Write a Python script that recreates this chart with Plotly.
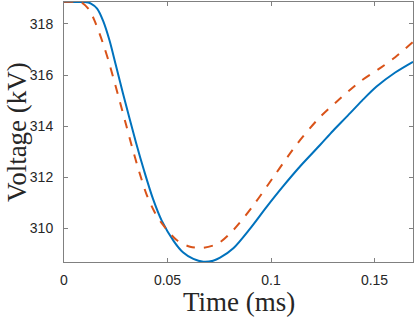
import plotly.graph_objects as go

# Data
blue_x = [0, 0.008, 0.010, 0.013, 0.016, 0.019, 0.022, 0.025, 0.0285, 0.0348, 0.0386,
          0.0430, 0.0472, 0.0530, 0.0576, 0.0625, 0.0673, 0.0720, 0.0754, 0.0818,
          0.0900, 0.0979, 0.1060, 0.1140, 0.1237, 0.1300, 0.1366, 0.1440, 0.1510,
          0.1600, 0.1686]
blue_y = [318.86, 318.86, 318.86, 318.80, 318.60, 318.10, 317.35, 316.40, 315.28, 313.35, 312.28,
          311.15, 310.30, 309.50, 309.05, 308.80, 308.69, 308.73, 308.85, 309.22,
          310.00, 310.84, 311.66, 312.42, 313.26, 313.82, 314.37, 315.00, 315.55,
          316.10, 316.52]

red_x = [0, 0.006, 0.0085, 0.0122, 0.0146, 0.0171, 0.0195, 0.0219, 0.0260, 0.0300,
         0.0330, 0.0362, 0.0400, 0.0440, 0.0472, 0.0544, 0.0609, 0.0673, 0.0745,
         0.0818, 0.0915, 0.1011, 0.1076, 0.1124, 0.1230, 0.1330, 0.1430, 0.1527,
         0.1600, 0.1688]
red_y = [318.87, 318.87, 318.84, 318.55, 318.16, 317.64, 317.08, 316.45, 315.25, 314.05,
         313.15, 312.25, 311.30, 310.60, 310.20, 309.54, 309.28, 309.24, 309.41,
         309.93, 310.90, 312.00, 312.75, 313.28, 314.30, 315.05, 315.74, 316.27,
         316.70, 317.31]

x_ticks = [0, 0.05, 0.1, 0.15]
x_tick_labels = ["0", "0.05", "0.1", "0.15"]
y_ticks = [310, 312, 314, 316, 318]
y_tick_labels = ["310", "312", "314", "316", "318"]
x_title = "Time (ms)"
y_title = "Voltage (kV)"

fig = go.Figure()
fig.add_trace(go.Scatter(x=blue_x, y=blue_y, mode="lines",
                         line=dict(color="#0072BD", width=2, shape="spline", smoothing=0.85),
                         showlegend=False))
fig.add_trace(go.Scatter(x=red_x, y=red_y, mode="lines",
                         line=dict(color="#D95319", width=2, dash="dash", shape="spline", smoothing=0.85),
                         showlegend=False))

axis_common = dict(
    showgrid=False, zeroline=False, showline=True, linecolor="#808080", linewidth=1,
    mirror="ticks", ticks="inside", ticklen=4, tickwidth=1, tickcolor="#808080",
    automargin=False,
    tickfont=dict(family="Liberation Sans, Arial, sans-serif", size=14, color="#262626"),
)

title_font = dict(family="Liberation Serif, Times New Roman, serif", size=27, color="#262626")

fig.update_layout(
    width=415, height=318,
    margin=dict(l=64, r=2, t=2, b=56),
    paper_bgcolor="white", plot_bgcolor="white",
    xaxis=dict(range=[0, 0.1686], tickvals=x_ticks, ticktext=x_tick_labels,
               ticklabelstandoff=5, **axis_common),
    yaxis=dict(range=[308.68, 318.86], tickvals=y_ticks, ticktext=y_tick_labels,
               ticklabelstandoff=7, **axis_common),
    annotations=[
        dict(text=x_title, xref="paper", yref="paper", x=0.5, y=-0.152,
             xanchor="center", yanchor="middle", showarrow=False, font=title_font),
        dict(text=y_title, xref="paper", yref="paper", x=-0.135, y=0.5, textangle=-90,
             xanchor="center", yanchor="middle", showarrow=False, font=title_font),
    ],
)

fig.write_html("out.html", config={"displayModeBar": False},
               post_script="document.body.style.margin='0';document.body.style.padding='0';")
